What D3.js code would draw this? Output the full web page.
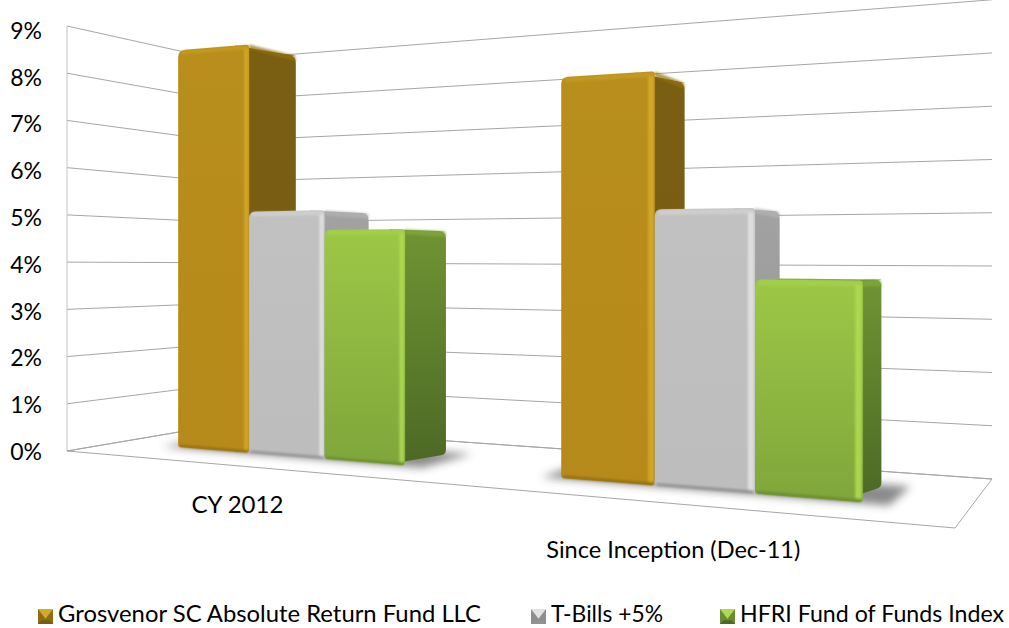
<!DOCTYPE html>
<html>
<head>
<meta charset="utf-8">
<script src="https://cdnjs.cloudflare.com/ajax/libs/d3/7.8.5/d3.min.js"></script>
<style>
  html, body { margin: 0; background: #fff; }
  svg { display: block; }
  text { font-family: Lato, "Open Sans", sans-serif; fill: #000; }
</style>
</head>
<body>
<svg id="chart" width="1009" height="628"></svg>
<script>
const categories = ["CY 2012", "Since Inception (Dec-11)"];
const seriesNames = ["Grosvenor SC Absolute Return Fund LLC", "T-Bills +5%", "HFRI Fund of Funds Index"];
const grosvenorValues = [8.6, 7.5];
const tbillValues = [5.08, 5.0];
const hfriValues = [4.68, 3.75];
const tickValues = [0, 1, 2, 3, 4, 5, 6, 7, 8, 9];

const frontColors = [["#B88E1C", "#B68A1A"], ["#C1C1C1", "#BDBDBD"], ["#9CC846", "#7FA63B"]];
const sideColors = [["#7A5E12", "#785C12"], ["#A2A2A2", "#939393"], ["#6F9433", "#4C6925"]];
const topColors = ["#94720F", "#B4B4B4", "#84AC3A"];
const edgeColors = ["#D4AA2C", "#E2E2E2", "#AEDA52"];
const lowColors = ["#8F6C12", "#8E8E8E", "#6A8C30"];
const lineColor = "#A6A6A6";

const svg = d3.select("#chart");

// corners of the floor in the picture: front left, front right, back right, back left
const floorQuad = [[67, 451], [955, 528], [992, 479], [220, 425]];

// unit square to floor quad, so the whole chart shares one vanishing point
function makeHomography(q) {
  let sx = q[0][0] - q[1][0] + q[2][0] - q[3][0];
  let sy = q[0][1] - q[1][1] + q[2][1] - q[3][1];
  let dx1 = q[1][0] - q[2][0], dx2 = q[3][0] - q[2][0];
  let dy1 = q[1][1] - q[2][1], dy2 = q[3][1] - q[2][1];
  let det = dx1 * dy2 - dx2 * dy1;
  let g = (sx * dy2 - dx2 * sy) / det;
  let h = (dx1 * sy - sx * dy1) / det;
  return {
    a: q[1][0] - q[0][0] + g * q[1][0], b: q[3][0] - q[0][0] + h * q[3][0], c: q[0][0],
    d: q[1][1] - q[0][1] + g * q[1][1], e: q[3][1] - q[0][1] + h * q[3][1], f: q[0][1],
    g: g, h: h
  };
}
const H = makeHomography(floorQuad);

const heightScale = d3.scaleLinear().domain([0, 9]).range([0, 425]);

// u runs along the front, v runs into the depth, val is the percent height
function project(u, v, val) {
  let w = H.g * u + H.h * v + 1;
  // heights shrink a little less than the floor does towards the right
  let wHeight = 0.961 * H.g * u + H.h * v + 1;
  return [
    (H.a * u + H.b * v + H.c) / w,
    (H.d * u + H.e * v + H.f) / w - heightScale(val) / wHeight
  ];
}

// the clusters are not quite the same width in the picture
const clusterStart = d3.scaleOrdinal().domain(categories).range([0.094, 0.6]);
const clusterEnd = d3.scaleOrdinal().domain(categories).range([0.412, 0.907]);
const depthFront = 0.305, depthBack = 0.635;

const line = d3.line();
const quad = pts => line(pts) + "Z";

// closed path with a rounded corner of its own radius at each point
function roundedQuad(pts, radii) {
  let n = pts.length;
  let path = d3.path();
  pts.forEach((p, i) => {
    let prev = pts[(i + n - 1) % n], next = pts[(i + 1) % n];
    let lenA = Math.hypot(prev[0] - p[0], prev[1] - p[1]);
    let lenB = Math.hypot(next[0] - p[0], next[1] - p[1]);
    let r = Math.min(radii[i], lenA / 2, lenB / 2);
    let a = [p[0] + (prev[0] - p[0]) * r / lenA, p[1] + (prev[1] - p[1]) * r / lenA];
    let b = [p[0] + (next[0] - p[0]) * r / lenB, p[1] + (next[1] - p[1]) * r / lenB];
    if (i == 0) path.moveTo(a[0], a[1]);
    else path.lineTo(a[0], a[1]);
    path.quadraticCurveTo(p[0], p[1], b[0], b[1]);
  });
  path.closePath();
  return path.toString();
}

// gradients and blurs
const defs = svg.append("defs");
function addGradient(id, colors) {
  let grad = defs.append("linearGradient").attr("id", id)
    .attr("x1", 0).attr("x2", 0).attr("y1", 0).attr("y2", 1);
  grad.append("stop").attr("offset", "0%").attr("stop-color", colors[0]);
  grad.append("stop").attr("offset", "100%").attr("stop-color", colors[1]);
}
seriesNames.forEach((s, i) => {
  addGradient("front" + i, frontColors[i]);
  addGradient("side" + i, sideColors[i]);
});
defs.append("filter").attr("id", "blur")
  .attr("x", "-20%").attr("y", "-50%").attr("width", "140%").attr("height", "200%")
  .append("feGaussianBlur").attr("stdDeviation", 4);
defs.append("filter").attr("id", "soft")
  .attr("x", "-50%").attr("y", "-50%").attr("width", "200%").attr("height", "200%")
  .append("feGaussianBlur").attr("stdDeviation", 0.9);

// walls
svg.append("g").selectAll("path")
  .data(tickValues)
  .join("path")
  .attr("d", d => line([project(0, 0, d), project(0, 1, d), project(1, 1, d)]))
  .attr("fill", "none")
  .attr("stroke", lineColor)
  .attr("stroke-width", 1);

// left edge of the side wall
svg.append("path")
  .attr("d", line([project(0, 0, 0), project(0, 0, 9)]))
  .attr("fill", "none")
  .attr("stroke", "#C4C4C4")
  .attr("stroke-width", 1);

// floor
svg.append("path")
  .attr("d", quad([project(0, 0, 0), project(1, 0, 0), project(1, 1, 0), project(0, 1, 0)]))
  .attr("fill", "none")
  .attr("stroke", lineColor)
  .attr("stroke-width", 1);

// shadows under each cluster
svg.append("g").selectAll("path")
  .data(categories)
  .join("path")
  .attr("d", c => {
    let u0 = clusterStart(c) - 0.02, u1 = clusterEnd(c) + 0.025;
    return quad([project(u0, depthFront - 0.02, 0), project(u1, depthFront - 0.02, 0),
                 project(u1, depthBack + 0.06, 0), project(u0, depthBack + 0.06, 0)]);
  })
  .attr("fill", "#3c3c3c")
  .attr("opacity", 0.6)
  .attr("filter", "url(#blur)");

// bars
let barData = [];
categories.forEach((c, ci) => {
  let seriesScale = d3.scaleBand().domain(seriesNames).range([clusterStart(c), clusterEnd(c)]);
  [grosvenorValues, tbillValues, hfriValues].forEach((values, si) => {
    let u0 = seriesScale(seriesNames[si]);
    barData.push({ si: si, u0: u0, u1: u0 + seriesScale.bandwidth(), val: values[ci] });
  });
});

let bars = svg.append("g").selectAll("g")
  .data(barData)
  .join("g");

bars.append("path")
  .attr("d", d => quad([project(d.u0, depthFront, d.val - 0.1), project(d.u1, depthFront, d.val - 0.1),
                        project(d.u1, depthBack, d.val), project(d.u0, depthBack, d.val)]))
  .attr("fill", d => topColors[d.si]);

bars.append("path")
  .attr("d", d => roundedQuad([project(d.u1 - 0.02, depthFront, 0), project(d.u1, depthBack, 0),
                               project(d.u1, depthBack, d.val), project(d.u1 - 0.02, depthFront, d.val)],
                              [0, 5, 7, 0]))
  .attr("fill", d => `url(#side${d.si})`);

// lit rim along the top of the side face
bars.append("path")
  .attr("d", d => roundedQuad([project(d.u1, depthFront, d.val - 0.1), project(d.u1, depthBack, d.val - 0.12),
                               project(d.u1, depthBack, d.val), project(d.u1, depthFront, d.val)],
                              [0, 0, 5, 0]))
  .attr("fill", d => topColors[d.si])
  .attr("filter", "url(#soft)")
  .attr("opacity", 0.7);

bars.append("path")
  .attr("d", d => roundedQuad([project(d.u0, depthFront, 0), project(d.u1, depthFront, 0),
                               project(d.u1, depthFront, d.val), project(d.u0, depthFront, d.val)],
                              [3, 3, 3, 7]))
  .attr("fill", d => `url(#front${d.si})`);

// darker lip at the foot of the front face
bars.append("path")
  .attr("d", d => quad([project(d.u0 + 0.002, depthFront, 0), project(d.u1 - 0.002, depthFront, 0),
                        project(d.u1 - 0.002, depthFront, 0.05), project(d.u0 + 0.002, depthFront, 0.05)]))
  .attr("fill", d => lowColors[d.si])
  .attr("filter", "url(#soft)")
  .attr("opacity", 0.9);

// lit bevel along the right edge of the front face
bars.append("path")
  .attr("d", d => quad([project(d.u1 - 0.007, depthFront, 0.06), project(d.u1 - 0.001, depthFront, 0.06),
                        project(d.u1 - 0.001, depthFront, d.val - 0.08), project(d.u1 - 0.007, depthFront, d.val - 0.08)]))
  .attr("fill", d => edgeColors[d.si])
  .attr("filter", "url(#soft)")
  .attr("opacity", 0.9);

// lit bevel along the top of the front face
bars.append("path")
  .attr("d", d => quad([project(d.u0 + 0.004, depthFront, d.val - 0.1), project(d.u1 - 0.001, depthFront, d.val - 0.1),
                        project(d.u1 - 0.001, depthFront, d.val - 0.01), project(d.u0 + 0.004, depthFront, d.val - 0.01)]))
  .attr("fill", d => edgeColors[d.si])
  .attr("filter", "url(#soft)")
  .attr("opacity", 0.4);

// y axis labels
const labelScale = d3.scaleLinear().domain([0, 9]).range([452, 31]);
let yAxis = d3.axisLeft(labelScale).tickValues(tickValues).tickSize(0).tickPadding(0).tickFormat(d => d + "%");
let gy = svg.append("g").attr("transform", "translate(42, 0)").call(yAxis);
gy.select(".domain").remove();
gy.selectAll("text").style("font-family", "Lato").style("font-size", "23px").attr("fill", "#000");

// category labels follow the front of the floor
const categoryWidths = [92, 254];
const categoryCenter = c => (clusterStart(c) + clusterEnd(c)) / 2;
svg.append("g").selectAll("text")
  .data(categories)
  .join("text")
  .attr("x", (c, i) => project(categoryCenter(c), 0, 0)[0] - 2)
  .attr("y", c => project(categoryCenter(c), 0, 0)[1] + 38 / (H.g * categoryCenter(c) + 1))
  .attr("text-anchor", "middle")
  .attr("dominant-baseline", "middle")
  .attr("font-size", 23)
  .attr("textLength", (c, i) => categoryWidths[i])
  .attr("lengthAdjust", "spacingAndGlyphs")
  .text(c => c);

// legend
const legendX = [38, 531, 720];
const legendWidths = [423, 112, 264];
const legendSwatch = 15, legendY = 609;
let legend = svg.append("g").selectAll("g")
  .data(seriesNames)
  .join("g")
  .attr("transform", (d, i) => `translate(${legendX[i]}, ${legendY})`);

legend.append("rect")
  .attr("width", legendSwatch).attr("height", legendSwatch)
  .attr("fill", (d, i) => lowColors[i]);
legend.append("path")
  .attr("d", quad([[0, 0], [legendSwatch, 0], [legendSwatch * 0.5, legendSwatch * 0.65]]))
  .attr("fill", (d, i) => edgeColors[i]);
legend.append("path")
  .attr("d", quad([[0, legendSwatch], [legendSwatch, legendSwatch], [legendSwatch * 0.75, legendSwatch * 0.75], [legendSwatch * 0.25, legendSwatch * 0.75]]))
  .attr("fill", (d, i) => sideColors[i][1]);
legend.append("text")
  .attr("x", legendSwatch + 5)
  .attr("y", legendSwatch / 2)
  .attr("dominant-baseline", "middle")
  .attr("font-size", 23)
  .attr("textLength", (d, i) => legendWidths[i])
  .attr("lengthAdjust", "spacingAndGlyphs")
  .text(d => d);
</script>
</body>
</html>
